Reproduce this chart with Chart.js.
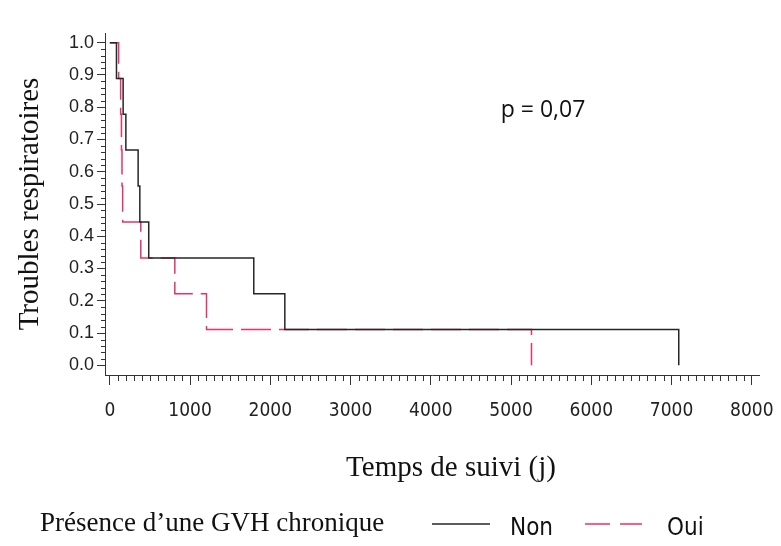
<script src="https://cdn.jsdelivr.net/npm/chart.js"></script>
<style>
    body { margin: 0; background: #fff; }
    .chart-box { position: relative; width: 781px; height: 546px; }
</style>
<div class="chart-box">
    <canvas id="kmChart"></canvas>
</div>

<script>
    // Kaplan-Meier style steps
    var timesNon = [0, 83, 166, 200, 353, 374, 485, 1794, 2181, 7090];
    var survNon  = [1.0, 0.889, 0.778, 0.667, 0.556, 0.444, 0.333, 0.222, 0.111, 0.0];
    var timesOui = [0, 110, 135, 145, 152, 160, 386, 810, 1205, 5255];
    var survOui  = [1.0, 0.889, 0.778, 0.667, 0.556, 0.444, 0.333, 0.222, 0.111, 0.0];

    var xTicks = [0, 1000, 2000, 3000, 4000, 5000, 6000, 7000, 8000];
    var yTicks = [0.0, 0.1, 0.2, 0.3, 0.4, 0.5, 0.6, 0.7, 0.8, 0.9, 1.0];

    var seriesNames = ['Non', 'Oui'];
    var pValueText = 'p = 0,07';
    var xTitle = 'Temps de suivi (j)';
    var legendTitle = 'Présence d\u2019une GVH chronique';

    var black = '#262626';
    var red = '#e6336b';
    var axisColor = '#333';
    var narrow = "'Liberation Sans Narrow', 'DejaVu Sans Condensed', 'Liberation Sans', sans-serif";
    var serif = "'Liberation Serif', 'DejaVu Serif', serif";

    function toPoints(times, values) {
        var pts = [];
        for (var i = 0; i < times.length; i++) {
            pts.push({ x: times[i], y: values[i] });
        }
        return pts;
    }

    // minor ticks, x title, p-value and the legend row at the bottom
    var extrasPlugin = {
        id: 'extras',
        afterDraw: function(chart) {
            var ctx = chart.ctx;
            var xs = chart.scales.x, ys = chart.scales.y;
            var area = chart.chartArea;
            ctx.save();
            ctx.strokeStyle = axisColor;
            ctx.lineWidth = 1;
            ctx.beginPath();
            for (var v = 100; v < 8000; v += 100) {
                if (v % 1000 === 0) continue;
                var px = Math.round(xs.getPixelForValue(v)) + 0.5;
                ctx.moveTo(px, area.bottom);
                ctx.lineTo(px, area.bottom + 6);
            }
            for (var k = 1; k < 50; k++) {
                if (k % 5 === 0) continue;
                var py = Math.round(ys.getPixelForValue(k * 0.02)) + 0.5;
                ctx.moveTo(area.left - 4, py);
                ctx.lineTo(area.left, py);
            }
            ctx.stroke();

            ctx.fillStyle = '#111';
            ctx.textBaseline = 'middle';

            // x axis title (sits a bit right of the axis centre in the original)
            ctx.textAlign = 'center';
            ctx.font = '29px ' + serif;
            ctx.fillText(xTitle, 451, 468);

            // p value
            ctx.font = "23px 'Open Sans', 'Liberation Sans', sans-serif";
            ctx.fillText(pValueText, 543, 110);

            // legend
            var ly = 524;
            ctx.textAlign = 'left';
            ctx.font = '27px ' + serif;
            ctx.fillText(legendTitle, 40, ly);

            ctx.lineWidth = 1.5;
            ctx.strokeStyle = black;
            ctx.beginPath();
            ctx.moveTo(432, ly);
            ctx.lineTo(490, ly);
            ctx.stroke();

            ctx.strokeStyle = red;
            ctx.setLineDash([25, 10]);
            ctx.beginPath();
            ctx.moveTo(585, ly);
            ctx.lineTo(642, ly);
            ctx.stroke();
            ctx.setLineDash([]);

            ctx.font = '24px ' + narrow;
            ctx.fillText(seriesNames[0], 510, ly + 5);
            ctx.fillText(seriesNames[1], 667, ly + 5);
            ctx.restore();
        }
    };

    var ctx = document.getElementById('kmChart').getContext('2d');
    window.kmChart = new Chart(ctx, {
        type: 'line',
        data: {
            datasets: [{
                label: seriesNames[0],
                data: toPoints(timesNon, survNon),
                borderColor: black,
                borderWidth: 1.5,
                stepped: true,
                pointRadius: 0,
                fill: false
            }, {
                label: seriesNames[1],
                data: toPoints(timesOui, survOui),
                borderColor: red,
                borderWidth: 1.5,
                borderDash: [30, 8],
                stepped: true,
                pointRadius: 0,
                fill: false
            }]
        },
        options: {
            responsive: true,
            maintainAspectRatio: false,
            animation: false,
            layout: { padding: { top: 33, right: 22, left: 0, bottom: 0 } },
            plugins: {
                legend: { display: false },
                tooltip: { enabled: false }
            },
            scales: {
                x: {
                    type: 'linear',
                    min: -60,
                    max: 8090,
                    afterFit: function(scale) {
                        scale.height = 171;
                        // labels may overhang, keep the plot edge fixed
                        scale.paddingLeft = 0;
                        scale.paddingRight = 0;
                    },
                    afterBuildTicks: function(scale) {
                        scale.ticks = xTicks.map(function(v) { return { value: v }; });
                    },
                    border: { display: true, color: axisColor, width: 1 },
                    grid: { drawOnChartArea: false, drawTicks: true, tickLength: 10, color: axisColor },
                    ticks: {
                        maxRotation: 0,
                        autoSkip: false,
                        padding: 15,
                        color: '#222',
                        font: { family: narrow, size: 19 },
                        callback: function(v) { return String(v); }
                    }
                },
                y: {
                    type: 'linear',
                    min: -0.03,
                    max: 1.03,
                    afterFit: function(scale) {
                        scale.width = 105;
                        scale.paddingTop = 0;
                        scale.paddingBottom = 0;
                    },
                    afterBuildTicks: function(scale) {
                        scale.ticks = yTicks.map(function(v) { return { value: v }; });
                    },
                    border: { display: true, color: axisColor, width: 1 },
                    grid: { drawOnChartArea: false, drawTicks: true, tickLength: 8, color: axisColor },
                    ticks: {
                        autoSkip: false,
                        padding: 3,
                        color: '#222',
                        font: { family: "'Liberation Sans', sans-serif", size: 18 },
                        callback: function(v) { return Number(v).toFixed(1); }
                    },
                    title: {
                        display: true,
                        text: 'Troubles respiratoires',
                        color: '#111',
                        font: { family: serif, size: 29 },
                        padding: { top: 13, bottom: 0 }
                    }
                }
            }
        },
        plugins: [extrasPlugin]
    });
</script>
